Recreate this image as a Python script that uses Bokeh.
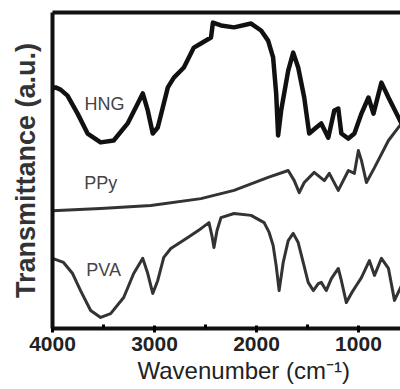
from bokeh.plotting import figure
from bokeh.models import Range1d, FixedTicker, LinearAxis, ColumnDataSource, Title
from bokeh.core.properties import value
from bokeh.embed import file_html
from bokeh.resources import INLINE

# ---- data ----
hng_wn = [4000, 3970, 3921, 3853, 3754, 3656, 3528, 3400, 3263, 3164, 3115, 3066, 3017, 2968,
          2869, 2810, 2712, 2614, 2545, 2446, 2427, 2348, 2220, 2053, 1955, 1886, 1837, 1807,
          1788, 1758, 1689, 1640, 1591, 1532, 1483, 1414, 1365, 1296, 1237, 1198, 1168, 1099,
          1040, 971, 902, 853, 775, 706, 578]
hng_t = [75.9, 76.3, 75.6, 73.7, 68.0, 61.7, 58.9, 59.5, 64.9, 71.2, 74.4, 69.0, 61.7, 63.6,
         76.3, 79.4, 82.6, 88.9, 90.2, 92.1, 96.8, 95.9, 95.3, 96.5, 94.3, 91.1, 85.8, 74.4,
         61.1, 69.0, 81.6, 87.3, 82.6, 73.1, 61.7, 63.6, 64.9, 60.4, 69.0, 69.6, 61.7, 60.1,
         61.7, 68.0, 73.1, 68.0, 77.8, 73.1, 64.9]

ppy_wn = [4000, 3528, 3036, 2545, 2220, 1886, 1689, 1630, 1581, 1532, 1434, 1335, 1286, 1198,
          1099, 1040, 1001, 971, 922, 843, 706, 578]
ppy_t = [37.3, 38.0, 38.9, 41.1, 43.7, 47.8, 50.0, 46.8, 43.0, 46.2, 49.4, 46.8, 49.1, 43.7,
         50.0, 49.1, 56.3, 53.2, 46.2, 50.9, 59.5, 64.9]

pva_wn = [4000, 3892, 3803, 3725, 3626, 3528, 3430, 3302, 3204, 3115, 3066, 3017, 2968, 2909,
          2840, 2673, 2545, 2466, 2437, 2417, 2387, 2348, 2220, 2053, 1925, 1876, 1837, 1807,
          1778, 1738, 1689, 1640, 1591, 1542, 1493, 1443, 1394, 1365, 1316, 1266, 1198, 1168,
          1119, 1070, 1021, 971, 893, 843, 775, 706, 647, 578]
pva_t = [22.2, 20.9, 17.4, 12.0, 5.7, 3.5, 4.7, 9.8, 17.4, 22.2, 17.4, 11.1, 15.2, 22.5,
         25.3, 28.8, 31.6, 33.5, 29.4, 25.6, 31.0, 35.1, 36.4, 35.8, 33.5, 30.4, 26.3, 19.9,
         12.0, 20.9, 27.8, 30.1, 27.2, 20.9, 14.6, 12.0, 14.2, 14.6, 12.0, 15.8, 19.0, 15.2,
         8.2, 11.1, 13.6, 16.1, 21.5, 16.8, 22.2, 19.0, 8.9, 13.6]

series_names = ["HNG", "PPy", "PVA"]
label_wn = [3489, 3528, 3499]
label_t = [71.2, 45.9, 18.4]

x_ticks = [4000, 3000, 2000, 1000]
x_minor = [3500, 2500, 1500]
x_title = "Wavenumber (cm\u207b\u00b9)"
y_title = "Transmittance (a.u.)"

FONT = "Liberation Sans"

p = figure(width=400, height=389, output_backend="svg", toolbar_location=None,
           x_range=Range1d(4000, 588), y_range=Range1d(0, 100),
           min_border_left=52, min_border_right=0, min_border_top=12, min_border_bottom=61,
           x_axis_location="below", y_axis_location="left")
p.outline_line_color = None
p.xgrid.visible = False
p.ygrid.visible = False
p.background_fill_color = "white"
p.border_fill_color = "white"

p.line(hng_wn, hng_t, line_color="#111111", line_width=4.5, line_join="round")
p.line(ppy_wn, ppy_t, line_color="#333333", line_width=3, line_join="round")
p.line(pva_wn, pva_t, line_color="#333333", line_width=3, line_join="round")

src = ColumnDataSource(dict(x=label_wn, y=label_t, t=series_names))
p.text(x="x", y="y", text="t", source=src, text_align="center", text_baseline="middle",
       text_font=value(FONT), text_font_size="18px", text_color="#444444")

xa = p.xaxis[0]
xa.ticker = FixedTicker(ticks=x_ticks, minor_ticks=x_minor)
xa.axis_line_width = 4
xa.axis_line_color = "#111111"
xa.major_tick_line_width = 3
xa.major_tick_in = 3
xa.major_tick_out = 4
xa.minor_tick_line_width = 3
xa.minor_tick_in = 4
xa.minor_tick_out = 0
xa.major_label_text_font = FONT
xa.major_label_text_font_size = "21px"
xa.major_label_text_font_style = "bold"
xa.major_label_text_color = "#222222"
xa.major_label_standoff = 4

# x-axis title as a below-panel title, shifted right like in the reference
p.add_layout(Title(text=x_title, align="left", offset=85, standoff=3,
                   text_font=FONT, text_font_size="24px", text_font_style="normal",
                   text_color="#222222"), "below")

ya = p.yaxis[0]
ya.ticker = FixedTicker(ticks=[])
ya.axis_line_width = 4
ya.axis_line_color = "#111111"
ya.major_tick_line_color = None
ya.minor_tick_line_color = None
ya.axis_label = y_title
ya.axis_label_text_font = FONT
ya.axis_label_text_font_size = "27px"
ya.axis_label_text_font_style = "bold"
ya.axis_label_text_color = "#333333"
ya.axis_label_standoff = 12

top = LinearAxis(ticker=FixedTicker(ticks=[]), axis_line_width=4, axis_line_color="#111111",
                 major_tick_line_color=None, minor_tick_line_color=None,
                 major_label_text_font_size="0px")
p.add_layout(top, "above")

open("out.html", "w").write(file_html(p, INLINE))
